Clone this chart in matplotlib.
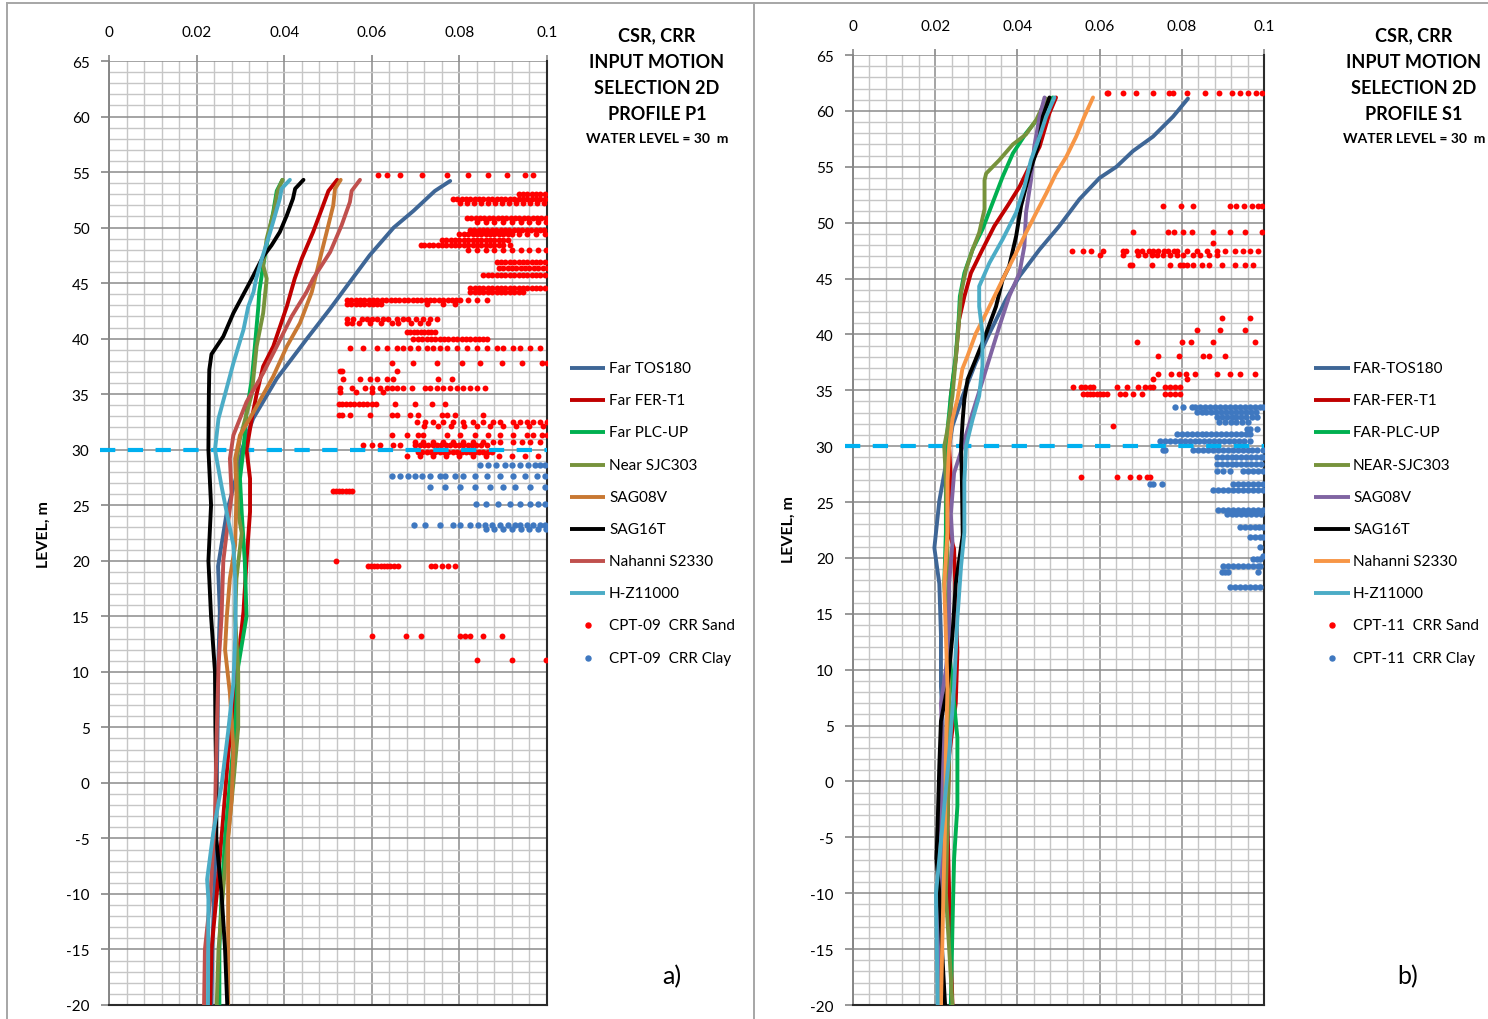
import matplotlib
matplotlib.use("Agg")
import matplotlib.pyplot as plt
from matplotlib.lines import Line2D
from matplotlib.ticker import MultipleLocator, FuncFormatter

plt.rcParams['font.family'] = ['Lato', 'DejaVu Sans']
plt.rcParams['lines.scale_dashes'] = False
plt.rcParams['axes.unicode_minus'] = False

# ---------------------------------------------------------------- data
WATER_LEVEL = 30.0

# Profile P1 : CSR curves (level m, CSR)
p1_tos180_y = [54.2, 53.3, 51.5, 50.0, 47.5, 45.0, 42.7, 40.0, 36.4, 32.8, 30.3, 27.5, 24.4, 19.5, 15.4, 10.0, 5.0, 0.0, -5.0, -10.0, -15.0, -20.0]
p1_tos180_x = [0.0779, 0.0744, 0.0695, 0.0650, 0.0595, 0.0548, 0.0505, 0.0452, 0.0383, 0.0329, 0.0306, 0.0290, 0.0269, 0.0249, 0.0253, 0.0249, 0.0248, 0.0246, 0.0244, 0.0240, 0.0236, 0.0234]
p1_fert1_y = [54.3, 53.3, 51.7, 49.6, 47.2, 45.4, 42.9, 39.3, 37.5, 35.0, 32.8, 30.0, 27.4, 24.4, 20.0, 15.4, 10.0, 2.5, -3.0, -10.0, -15.0, -20.0]
p1_fert1_x = [0.0521, 0.0501, 0.0486, 0.0466, 0.0440, 0.0424, 0.0406, 0.0375, 0.0352, 0.0337, 0.0326, 0.0314, 0.0322, 0.0322, 0.0314, 0.0307, 0.0292, 0.0272, 0.0261, 0.0246, 0.0234, 0.0231]
p1_plcup_y = [54.3, 53.3, 51.4, 49.3, 46.6, 44.2, 42.9, 39.3, 36.3, 33.4, 30.0, 27.4, 24.3, 20.0, 15.0, 10.5, 5.0, 0.0, -5.0, -10.0, -15.0, -20.0]
p1_plcup_x = [0.0396, 0.0383, 0.0375, 0.0364, 0.0352, 0.0343, 0.0341, 0.0333, 0.0326, 0.0314, 0.0307, 0.0299, 0.0303, 0.0310, 0.0314, 0.0295, 0.0288, 0.0276, 0.0265, 0.0257, 0.0252, 0.0252]
p1_sjc303_y = [54.3, 53.3, 51.4, 49.0, 46.6, 45.4, 42.3, 39.3, 35.0, 31.0, 28.9, 24.3, 22.5, 18.4, 15.0, 10.0, 5.0, 0.0, -7.5, -15.0, -20.0]
p1_sjc303_x = [0.0396, 0.0385, 0.0376, 0.0360, 0.0352, 0.0360, 0.0352, 0.0337, 0.0326, 0.0299, 0.0291, 0.0295, 0.0303, 0.0291, 0.0288, 0.0295, 0.0295, 0.0284, 0.0265, 0.0250, 0.0246]
p1_sag08v_y = [54.3, 53.5, 52.0, 49.6, 46.6, 44.2, 41.4, 39.3, 36.6, 33.4, 31.3, 29.2, 25.9, 21.4, 18.4, 15.0, 12.0, 8.1, 3.0, -1.5, -5.0, -20.0]
p1_sag08v_x = [0.0529, 0.0516, 0.0512, 0.0497, 0.0478, 0.0463, 0.0436, 0.0406, 0.0375, 0.0330, 0.0299, 0.0288, 0.0291, 0.0288, 0.0276, 0.0269, 0.0265, 0.0276, 0.0284, 0.0280, 0.0272, 0.0272]
p1_sag16t_y = [54.3, 53.5, 52.6, 51.1, 49.6, 48.4, 47.4, 45.4, 42.3, 40.2, 38.6, 37.2, 35.0, 30.0, 25.0, 20.0, 15.0, 10.0, 5.0, 0.0, -5.0, -10.0, -15.0, -20.0]
p1_sag16t_x = [0.0444, 0.0425, 0.0420, 0.0406, 0.0390, 0.0371, 0.0352, 0.0326, 0.0284, 0.0261, 0.0234, 0.0229, 0.0228, 0.0227, 0.0233, 0.0227, 0.0233, 0.0242, 0.0243, 0.0245, 0.0245, 0.0257, 0.0265, 0.0270]
p1_s2330_y = [54.3, 53.3, 52.3, 50.2, 47.8, 45.4, 44.2, 42.0, 39.3, 36.9, 34.3, 31.3, 29.2, 25.9, 22.6, 20.0, 15.0, 10.5, 4.6, -3.0, -10.5, -15.0, -20.0]
p1_s2330_x = [0.0573, 0.0554, 0.0550, 0.0531, 0.0505, 0.0466, 0.0451, 0.0417, 0.0383, 0.0352, 0.0314, 0.0284, 0.0276, 0.0280, 0.0269, 0.0261, 0.0257, 0.0250, 0.0246, 0.0242, 0.0231, 0.0219, 0.0217]
p1_hz11000_y = [54.3, 53.5, 52.6, 49.6, 47.2, 45.4, 44.2, 42.9, 40.8, 37.8, 35.0, 32.8, 30.0, 26.7, 23.7, 21.4, 18.4, 15.0, 13.0, 9.0, 4.6, -0.2, -4.5, -8.7, -10.5, -20.0]
p1_hz11000_x = [0.0413, 0.0394, 0.0390, 0.0368, 0.0349, 0.0336, 0.0330, 0.0318, 0.0307, 0.0284, 0.0265, 0.0250, 0.0242, 0.0257, 0.0272, 0.0284, 0.0288, 0.0289, 0.0288, 0.0284, 0.0272, 0.0257, 0.0238, 0.0224, 0.0227, 0.0226]

# Profile S1 : CSR curves (level m, CSR)
s1_tos180_y = [61.1, 59.5, 57.7, 56.4, 55.0, 54.0, 52.1, 49.7, 47.6, 45.2, 43.1, 40.1, 37.5, 34.5, 31.8, 30.0, 25.1, 20.9, 17.7, 13.1, 8.5, 5.4, 0.0, -5.0, -10.0, -15.0, -20.0]
s1_tos180_x = [0.0815, 0.0779, 0.0730, 0.0681, 0.0641, 0.0600, 0.0551, 0.0502, 0.0454, 0.0405, 0.0372, 0.0332, 0.0299, 0.0267, 0.0242, 0.0234, 0.0210, 0.0198, 0.0210, 0.0214, 0.0214, 0.0218, 0.0220, 0.0218, 0.0215, 0.0213, 0.0212]
s1_fert1_y = [61.2, 59.8, 58.3, 56.8, 55.0, 53.2, 51.5, 49.7, 47.6, 45.5, 43.4, 41.3, 37.8, 34.5, 30.0, 26.9, 22.3, 20.8, 16.2, 11.6, 7.0, 2.4, -3.8, -10.0, -20.0]
s1_fert1_x = [0.0494, 0.0478, 0.0466, 0.0454, 0.0429, 0.0405, 0.0376, 0.0344, 0.0315, 0.0287, 0.0271, 0.0258, 0.0250, 0.0238, 0.0234, 0.0238, 0.0234, 0.0246, 0.0250, 0.0254, 0.0250, 0.0234, 0.0230, 0.0234, 0.0242]
s1_plcup_y = [61.2, 59.5, 58.0, 56.2, 54.1, 51.8, 49.4, 47.6, 45.5, 43.4, 41.3, 38.1, 34.5, 30.0, 26.9, 22.3, 17.7, 11.6, 7.0, 3.9, -2.2, -6.9, -13.0, -20.0]
s1_plcup_x = [0.0486, 0.0454, 0.0421, 0.0389, 0.0364, 0.0340, 0.0315, 0.0291, 0.0271, 0.0260, 0.0257, 0.0250, 0.0238, 0.0226, 0.0226, 0.0226, 0.0222, 0.0234, 0.0246, 0.0254, 0.0254, 0.0246, 0.0242, 0.0238]
s1_sjc303_y = [61.1, 59.2, 57.9, 57.0, 55.6, 54.4, 53.8, 51.2, 49.1, 47.6, 45.8, 43.7, 41.3, 37.8, 34.5, 31.5, 30.0, 26.9, 20.8, 14.6, 8.5, 2.4, -3.8, -10.0, -20.0]
s1_sjc303_x = [0.0470, 0.0446, 0.0421, 0.0389, 0.0356, 0.0324, 0.0320, 0.0320, 0.0307, 0.0291, 0.0275, 0.0263, 0.0258, 0.0250, 0.0242, 0.0230, 0.0222, 0.0226, 0.0230, 0.0234, 0.0234, 0.0234, 0.0230, 0.0226, 0.0242]
s1_sag08v_y = [61.2, 59.5, 56.8, 53.8, 50.9, 47.9, 45.5, 43.4, 40.7, 36.9, 33.0, 30.0, 27.6, 23.9, 21.4, 17.7, 13.1, 10.0, 7.0, 2.4, -3.8, -10.0, -20.0]
s1_sag08v_x = [0.0466, 0.0454, 0.0441, 0.0433, 0.0421, 0.0417, 0.0405, 0.0380, 0.0356, 0.0324, 0.0291, 0.0267, 0.0246, 0.0238, 0.0242, 0.0234, 0.0234, 0.0226, 0.0214, 0.0218, 0.0214, 0.0210, 0.0210]
s1_sag16t_y = [61.2, 59.5, 56.8, 54.4, 51.5, 48.8, 46.1, 44.9, 42.5, 40.1, 37.8, 36.0, 34.2, 32.4, 30.0, 26.9, 22.0, 17.7, 13.1, 8.5, 5.4, 1.4, -3.8, -6.9, -9.9, -16.0, -20.0]
s1_sag16t_x = [0.0478, 0.0462, 0.0450, 0.0429, 0.0409, 0.0397, 0.0380, 0.0364, 0.0348, 0.0324, 0.0299, 0.0279, 0.0271, 0.0267, 0.0263, 0.0265, 0.0267, 0.0250, 0.0242, 0.0230, 0.0214, 0.0210, 0.0206, 0.0203, 0.0210, 0.0218, 0.0224]
s1_s2330_y = [61.2, 59.5, 57.7, 55.9, 54.4, 52.6, 50.9, 49.1, 47.3, 45.5, 43.7, 41.9, 40.1, 38.1, 36.9, 34.2, 32.4, 30.0, 26.9, 22.3, 17.7, 13.1, 8.5, 2.4, -3.8, -10.0, -20.0]
s1_s2330_x = [0.0584, 0.0563, 0.0543, 0.0519, 0.0494, 0.0470, 0.0446, 0.0421, 0.0397, 0.0372, 0.0348, 0.0324, 0.0299, 0.0279, 0.0266, 0.0254, 0.0242, 0.0234, 0.0230, 0.0230, 0.0222, 0.0226, 0.0230, 0.0226, 0.0224, 0.0220, 0.0214]
s1_hz11000_y = [61.2, 59.5, 57.7, 55.6, 53.2, 50.9, 48.5, 46.4, 44.3, 42.5, 40.1, 37.2, 34.5, 32.4, 30.0, 26.9, 22.3, 19.3, 14.6, 8.5, 2.4, -3.8, -10.0, -20.0]
s1_hz11000_x = [0.0490, 0.0470, 0.0454, 0.0433, 0.0417, 0.0397, 0.0364, 0.0332, 0.0307, 0.0307, 0.0315, 0.0315, 0.0307, 0.0291, 0.0275, 0.0271, 0.0271, 0.0263, 0.0254, 0.0246, 0.0234, 0.0218, 0.0202, 0.0206]

# CPT CRR points, grouped by level; CRR values listed in thousandths
cpt09_sand = [
    (54.7, [61.5, 63.4, 66.4, 71.4, 77.1, 82.0, 86.6, 90.8, 95.0, 96.9]),
    (53.0, [93.5, 94.5, 95.5, 96.5, 97.5, 98.5, 99.5]),
    (52.6, [78.6, 79.5, 80.5, 81.5, 82.5, 83.5, 84.5, 85.5, 86.5, 87.5, 88.5, 89.5, 90.5, 91.5, 92.5, 93.5, 94.5, 95.5, 96.5, 97.5, 98.5, 99.5]),
    (52.2, [80.2, 81.8, 83.4, 85.0, 86.6, 88.2, 89.8, 91.4, 93.0, 94.6, 96.2, 97.8, 99.4]),
    (50.9, [81.7, 82.7, 83.7, 84.7, 85.7, 86.7, 87.7, 88.7, 89.7, 90.7, 91.7, 92.7, 93.7, 94.7, 95.7, 96.7, 97.7, 98.7, 99.7]),
    (50.5, [84.0, 86.0, 88.0, 90.0, 92.0, 94.0, 96.0, 98.0, 99.8]),
    (49.8, [82.4, 83.4, 84.4, 85.4, 86.4, 87.4, 88.4, 89.4, 90.4, 91.4, 92.4, 93.4, 94.4, 95.4, 96.4, 97.4, 98.4, 99.4]),
    (49.4, [80.0, 81.0, 82.0, 83.0, 84.0, 85.0, 86.0, 87.0, 88.0, 89.0, 90.0, 91.0, 92.0, 93.5, 95.5, 97.5, 99.5]),
    (48.9, [76.0, 77.0, 78.0, 79.0, 80.0, 81.0, 82.0, 83.0, 84.0, 85.0, 86.0, 87.0, 88.0, 89.0, 90.0, 91.0]),
    (48.4, [71.2, 72.0, 73.0, 74.0, 75.0, 76.0, 77.0, 78.0, 79.0, 80.0, 81.0, 82.0, 83.0, 84.0, 85.0, 86.0, 87.0, 88.0, 89.0, 90.0, 91.5]),
    (48.0, [82.0, 84.0, 86.0, 88.0, 90.0, 92.0, 94.0, 96.0, 98.0, 99.8]),
    (46.9, [88.5, 89.5, 90.5, 91.5, 92.5, 93.5, 94.5, 95.5, 96.5, 97.5, 98.5, 99.5]),
    (46.4, [89.0, 90.0, 91.0, 92.0, 93.0, 94.0, 95.0, 96.0, 97.0, 98.0, 99.0, 100.0]),
    (45.7, [85.5, 86.5, 87.5, 88.5, 89.5, 90.5, 91.5, 92.5, 93.5, 94.5, 95.5, 96.5, 97.5, 98.5, 99.5]),
    (44.6, [82.5, 83.5, 84.5, 85.5, 86.5, 87.5, 88.5, 89.5, 90.5, 91.5, 92.5, 93.5, 94.5, 95.5, 96.5, 97.5, 98.5, 99.5]),
    (44.2, [82.5, 83.5, 84.5, 85.5, 86.5, 87.5, 88.5, 89.5, 90.5, 91.5, 92.5, 93.5, 94.5]),
    (43.5, [54.3, 55.3, 56.3, 57.3, 58.3, 59.3, 60.3, 61.3, 62.3, 63.3, 64.3, 65.3, 66.3, 67.3, 68.3, 69.3, 70.3, 71.3, 72.3, 73.3, 74.3, 75.3, 76.3, 77.3, 78.3, 79.3, 80.1, 82.0, 84.0, 86.2]),
    (43.1, [54.3, 55.3, 56.3, 57.3, 58.3, 59.3, 60.3, 61.2, 62.0, 72.5, 76.3, 79.0]),
    (41.8, [54.3, 55.8, 57.7, 58.8, 60.0, 61.1, 62.6, 63.7, 65.7, 67.2, 68.3, 70.2, 71.7, 73.3, 74.8]),
    (41.4, [54.3, 55.4, 57.0, 59.5, 62.0, 64.6, 66.0, 69.0, 71.0, 72.9]),
    (40.6, [68.0, 68.8, 69.6, 70.4, 71.2, 72.0, 72.8, 73.6, 74.5]),
    (40.0, [69.5, 70.5, 71.5, 72.5, 73.5, 74.5, 75.5, 76.5, 77.5, 78.5, 79.5, 80.5, 81.5, 82.5, 83.5, 84.5, 85.5, 86.2]),
    (39.2, [55.0, 58.1, 61.1, 63.4, 65.7, 67.2, 68.7, 70.6, 72.5, 74.0, 75.6, 77.1, 79.4, 81.7, 84.0, 86.2, 88.5, 90.0, 92.3, 93.8, 96.1, 98.4]),
    (37.8, [64.5, 69.5, 74.8, 80.5, 84.7, 89.7, 94.2, 98.8, 100.0]),
    (37.1, [52.7, 53.1, 65.7]),
    (36.4, [53.5, 57.3, 59.6, 61.1, 63.4, 64.9, 75.2, 78.2]),
    (35.6, [52.7, 55.4, 58.4, 60.0, 61.9, 63.4, 64.5, 65.7, 67.2, 69.1, 72.1, 73.3, 74.8, 76.3, 77.9, 79.4, 80.9, 82.4, 84.0, 85.8]),
    (35.2, [52.7, 56.5, 60.0, 62.6]),
    (34.1, [52.4, 53.3, 54.2, 55.1, 56.0, 57.0, 58.0, 59.0, 60.0, 61.0, 65.3, 69.9, 73.7, 76.7]),
    (33.1, [52.4, 53.1, 55.0, 59.6, 64.5, 65.7, 68.7, 70.6, 76.0, 77.1, 79.0, 85.5]),
    (32.5, [70.3, 72.1, 74.0, 76.3, 78.6, 80.9, 83.2, 85.5, 87.7, 89.3, 92.3, 93.8, 95.4, 96.9, 98.4, 99.9]),
    (32.1, [72.0, 75.0, 78.0, 81.0, 84.0, 87.0, 90.0, 93.0, 96.0, 99.0]),
    (31.3, [64.5, 68.0, 70.6, 71.8, 77.1, 80.1, 83.6, 86.6, 89.3, 92.3, 95.4, 96.9, 98.8, 99.9]),
    (30.7, [69.9, 71.8, 74.0, 76.3, 78.6, 80.9, 83.2, 85.5, 87.7, 89.3, 92.3, 94.2, 96.1, 98.4]),
    (30.4, [58.1, 60.0, 61.9, 64.9, 66.4, 69.9, 70.9, 71.9, 72.9, 73.9, 74.9, 75.9, 76.9, 77.9, 78.9, 79.9, 80.9, 81.9, 82.9, 83.9, 84.9, 86.2]),
    (29.8, [70.5, 71.5, 72.5, 73.5, 74.5, 75.5, 76.5, 77.5, 78.5, 79.5, 80.5, 81.5, 82.5, 83.5, 84.5, 85.5, 86.5, 87.5]),
    (29.4, [68.0, 71.0, 74.0, 77.0, 80.0, 83.0, 86.0, 89.0, 92.0, 95.0, 98.0]),
    (26.3, [51.1, 51.8, 52.5, 53.3, 54.0, 54.8, 55.5]),
    (20.0, [51.8]),
    (19.5, [59.1, 59.8, 60.5, 61.2, 62.0, 62.8, 63.5, 64.2, 65.0, 65.9, 73.5, 74.5, 76.0, 77.5, 79.0]),
    (13.2, [60.0, 67.8, 71.2, 80.1, 81.2, 82.4, 85.4, 89.7]),
    (11.1, [84.0, 92.0, 99.8]),
]
cpt09_clay = [
    (28.6, [84.7, 86.5, 88.4, 90.4, 92.0, 93.8, 95.7, 97.3, 98.4, 99.5]),
    (27.6, [64.6, 66.4, 68.3, 69.9, 71.5, 73.3, 75.6, 76.7, 79.0, 80.8, 83.6, 86.3, 89.3, 92.2, 95.0, 97.7, 99.5]),
    (26.6, [73.3, 76.7, 80.1, 83.6, 87.0, 90.0, 92.7, 96.1, 99.5]),
    (25.1, [83.8, 86.1, 88.8, 91.6, 93.8, 96.1, 97.9, 99.5]),
    (23.2, [69.6, 72.1, 75.6, 78.5, 80.1, 82.4, 84.2, 85.8, 87.4, 89.3, 91.1, 92.7, 93.8, 95.4, 96.8, 98.4, 99.5]),
    (22.9, [86.0, 88.0, 90.0, 92.0, 94.0, 96.0, 98.0, 99.8]),
]
cpt11_sand = [
    (61.6, [61.7, 62.1, 65.8, 68.9, 72.9, 77.0, 77.9, 81.3, 85.6, 89.1, 92.2, 94.2, 96.1, 98.1, 99.5]),
    (51.5, [75.4, 79.7, 82.8, 91.7, 93.2, 95.1, 97.1, 98.5, 99.5]),
    (49.2, [68.1, 76.7, 78.1, 80.2, 82.4, 87.7, 91.7, 95.4, 99.5]),
    (48.2, [87.7]),
    (47.5, [53.2, 56.0, 57.8, 60.9, 65.8, 66.4, 69.0, 70.3, 71.9, 73.1, 74.3, 75.7, 76.7, 78.0, 78.8, 81.2, 83.6, 86.1, 88.5, 90.5, 93.0, 94.9, 96.6, 98.5]),
    (47.1, [60.1, 65.8, 69.4, 71.0, 72.7, 73.9, 75.5, 77.1, 78.8, 80.4, 82.8, 84.4, 86.5, 88.5]),
    (46.2, [67.4, 67.8, 72.7, 77.1, 79.6, 80.4, 81.2, 82.8, 84.8, 86.5, 89.8, 93.0, 95.4, 97.3]),
    (41.5, [89.8, 96.6]),
    (40.4, [83.8, 89.3, 95.4]),
    (39.3, [69.2, 80.0, 82.2, 87.6, 97.8]),
    (38.1, [74.3, 79.4, 85.2, 86.5, 90.5]),
    (36.5, [74.3, 77.3, 79.2, 81.0, 83.2, 88.6, 91.7, 94.2, 97.8]),
    (36.0, [73.1, 81.2]),
    (35.3, [53.6, 55.4, 56.4, 57.7, 58.5, 64.2, 66.6, 69.4, 71.0, 72.3, 73.1, 75.9, 77.1, 78.3, 79.6]),
    (34.7, [56.0, 56.9, 57.7, 58.5, 59.3, 60.1, 60.9, 61.7, 65.0, 66.2, 68.2, 70.2, 75.9, 77.1, 78.3, 79.6]),
    (31.8, [63.3]),
    (27.2, [55.4, 64.2, 67.4, 69.7, 71.5, 72.3]),
]
cpt11_clay = [
    (33.5, [78.3, 80.4, 82.4, 83.2, 84.4, 85.6, 86.9, 88.1, 89.3, 90.5, 91.7, 92.9, 94.2, 95.4, 96.6, 97.8, 99.0, 99.8]),
    (33.1, [83.6, 84.8, 86.0, 87.2, 88.4, 89.6, 90.8, 92.0, 93.2, 94.4, 95.6, 96.8, 98.0]),
    (32.6, [88.5, 89.7, 90.9, 92.1, 93.3, 94.5, 95.7, 97.0, 98.2]),
    (32.2, [89.1, 90.5, 91.9, 93.3, 94.7, 96.1]),
    (31.5, [95.8, 96.6, 98.2]),
    (31.1, [78.8, 80.0, 81.2, 82.4, 83.6, 84.8, 86.0, 87.2, 88.4, 89.6, 90.8, 92.0, 93.2, 94.4, 95.6, 96.6]),
    (30.5, [74.7, 75.9, 77.1, 78.3, 79.5, 80.7, 81.9, 83.1, 84.3, 85.5, 86.7, 87.9, 89.1, 90.3, 91.5, 92.7, 93.9, 95.1, 96.6]),
    (29.7, [75.5, 75.9, 82.8, 84.0, 85.2, 86.4, 87.6, 88.8, 90.0, 91.2, 92.4, 93.6, 94.8, 96.0, 97.2, 98.4, 99.8]),
    (29.0, [88.5, 89.7, 90.9, 92.1, 93.3, 94.5, 95.7, 96.9, 98.1, 99.3, 99.8]),
    (28.4, [88.5, 89.7, 90.9, 92.1, 93.3, 94.5, 95.7, 96.9, 98.1, 99.3]),
    (27.8, [88.5, 90.1, 91.7, 95.0, 96.2, 97.4, 98.6, 99.8]),
    (26.6, [72.3, 73.0, 75.2, 92.5, 93.7, 94.9, 96.1, 97.3, 98.5, 99.8]),
    (26.1, [87.7, 88.9, 90.1, 91.3, 92.5, 93.7, 94.9, 96.1, 97.3, 98.5, 99.8]),
    (24.3, [88.9, 90.1, 91.3, 92.5, 93.7, 94.9, 96.1, 97.3, 98.5, 99.8]),
    (23.9, [90.9, 92.1, 93.3, 94.5, 95.7, 96.9, 98.1, 99.3]),
    (22.8, [94.1, 95.3, 96.5, 97.7, 98.9, 99.8]),
    (21.9, [96.6, 97.8, 99.0, 99.8]),
    (21.0, [99.0]),
    (20.2, [99.8]),
    (19.9, [97.4, 98.2, 99.0]),
    (19.3, [90.1, 91.3, 92.5, 93.7, 94.9, 96.1, 97.3, 98.5, 99.0]),
    (18.7, [89.7, 90.5, 91.3, 98.6]),
    (17.4, [91.7, 92.9, 94.1, 95.3, 96.5, 97.7, 99.0]),
]

p1_labels = ["Far TOS180", "Far FER-T1", "Far PLC-UP", "Near SJC303", "SAG08V",
             "SAG16T", "Nahanni S2330", "H-Z11000"]
s1_labels = ["FAR-TOS180", "FAR-FER-T1", "FAR-PLC-UP", "NEAR-SJC303", "SAG08V",
             "SAG16T", "Nahanni S2330", "H-Z11000"]
p1_colors = ["#3E6696", "#C00000", "#00B050", "#77933C", "#C87832",
             "#000000", "#C0504D", "#4BACC6"]
s1_colors = ["#3E6696", "#C00000", "#00B050", "#77933C", "#8064A2",
             "#000000", "#F79646", "#4BACC6"]

p1_curves = [(p1_tos180_x, p1_tos180_y), (p1_fert1_x, p1_fert1_y), (p1_plcup_x, p1_plcup_y),
             (p1_sjc303_x, p1_sjc303_y), (p1_sag08v_x, p1_sag08v_y), (p1_sag16t_x, p1_sag16t_y),
             (p1_s2330_x, p1_s2330_y), (p1_hz11000_x, p1_hz11000_y)]
s1_curves = [(s1_tos180_x, s1_tos180_y), (s1_fert1_x, s1_fert1_y), (s1_plcup_x, s1_plcup_y),
             (s1_sjc303_x, s1_sjc303_y), (s1_sag08v_x, s1_sag08v_y), (s1_sag16t_x, s1_sag16t_y),
             (s1_s2330_x, s1_s2330_y), (s1_hz11000_x, s1_hz11000_y)]

SAND_COLOR = "#FF0000"
CLAY_COLOR = "#3F78C0"
WATER_COLOR = "#00B0F0"

# ---------------------------------------------------------------- figure
W, H = 1488, 1020
fig = plt.figure(figsize=(W / 100, H / 100), dpi=100)


def fx(px):
    return px / W


def fy(py):
    return 1 - py / H


def flatten(rows):
    xs, ys = [], []
    for level, values in rows:
        for v in values:
            xs.append(v / 1000.0)
            ys.append(level)
    return xs, ys


def draw_panel(left, right, top, curves, colors, sand, clay):
    bottom = 1006
    ax = fig.add_axes([fx(left), fy(bottom), fx(right - left), (bottom - top) / H])
    ax.set_xlim(0, 0.1)
    ax.set_ylim(-20, 65)
    ax.xaxis.set_major_locator(MultipleLocator(0.02))
    ax.xaxis.set_minor_locator(MultipleLocator(0.004))
    ax.yaxis.set_major_locator(MultipleLocator(5))
    ax.yaxis.set_minor_locator(MultipleLocator(1))
    ax.xaxis.set_major_formatter(FuncFormatter(lambda v, _: f"{v:g}"))
    ax.xaxis.tick_top()
    ax.grid(which="major", color="#8c8c8c", lw=1.1)
    ax.grid(which="minor", color="#c6c6c6", lw=1.0)
    ax.set_axisbelow(True)
    ax.tick_params(axis="x", which="major", direction="out", length=4, width=1.2,
                   color="#868686", pad=12, labelsize=11, top=True, bottom=False)
    ax.tick_params(axis="y", which="major", direction="out", length=6, width=1.2,
                   color="#868686", pad=8, labelsize=11)
    ax.tick_params(which="minor", length=0)
    ax.spines["top"].set_visible(False)
    ax.spines["left"].set_color("#868686")
    ax.spines["left"].set_linewidth(1.4)
    for side in ("bottom", "right"):
        ax.spines[side].set_color("#2b2b2b")
        ax.spines[side].set_linewidth(1.5)

    sx, sy = flatten(sand)
    ax.scatter(sx, sy, s=18, color=SAND_COLOR, lw=0, zorder=3)
    cx, cy = flatten(clay)
    ax.scatter(cx, cy, s=21, color=CLAY_COLOR, lw=0, zorder=3)

    ax.plot([-0.002, 0.1], [WATER_LEVEL, WATER_LEVEL], color=WATER_COLOR, lw=3,
            linestyle=(0, (11, 9)), clip_on=False, zorder=3.5)

    for (xs, ys), c in zip(curves, colors):
        ax.plot(xs, ys, color=c, lw=2.8, solid_capstyle="round",
                solid_joinstyle="round", zorder=4)
    return ax


def draw_legend(x0, x1, xt, labels, colors, cpt):
    rows = [369, 401, 433, 466, 498, 530, 562, 594, 626, 659]
    for py, lab, c in zip(rows, labels, colors):
        fig.add_artist(Line2D([fx(x0), fx(x1)], [fy(py), fy(py)], color=c, lw=2.8,
                              solid_capstyle="butt"))
        fig.text(fx(xt), fy(py), lab, ha="left", va="center", fontsize=11)
    xm = (x0 + x1) / 2
    for py, lab, c in zip(rows[8:], [f"{cpt}  CRR Sand", f"{cpt}  CRR Clay"],
                          [SAND_COLOR, CLAY_COLOR]):
        fig.add_artist(Line2D([fx(xm)], [fy(py)], marker="o", markersize=3.6,
                              color=c, lw=0))
        fig.text(fx(xt), fy(py), lab, ha="left", va="center", fontsize=11)


def draw_title(cx, profile):
    lines = ["CSR, CRR", "INPUT MOTION", "SELECTION 2D", profile]
    for py, t in zip([36, 62, 88, 115], lines):
        fig.text(fx(cx), fy(py), t, ha="center", va="center", fontsize=13,
                 fontweight="bold")
    fig.text(fx(cx), fy(139), "WATER LEVEL = 30  m", ha="center", va="center",
             fontsize=10, fontweight="bold")


# panel frames
frame = dict(color="#a6a6a6", lw=1.4)
fig.add_artist(Line2D([fx(7), fx(W)], [fy(4), fy(4)], **frame))
fig.add_artist(Line2D([fx(7), fx(7)], [fy(4), fy(H)], **frame))
fig.add_artist(Line2D([fx(754), fx(754)], [fy(4), fy(H)], **frame))

# a) profile P1
draw_panel(109, 547, 62, p1_curves, p1_colors, cpt09_sand, cpt09_clay)
draw_legend(570, 605, 609, p1_labels, p1_colors, "CPT-09")
draw_title(657, "PROFILE P1")
fig.text(fx(44), fy(535), "LEVEL, m", rotation=90, ha="center", va="center",
         fontsize=11.5, fontweight="bold")
fig.text(fx(672), fy(977), "a)", ha="center", va="center", fontsize=18)

# b) profile S1
draw_panel(853, 1264, 56, s1_curves, s1_colors, cpt11_sand, cpt11_clay)
draw_legend(1314, 1350, 1353, s1_labels, s1_colors, "CPT-11")
draw_title(1414, "PROFILE S1")
fig.text(fx(789), fy(530), "LEVEL, m", rotation=90, ha="center", va="center",
         fontsize=11.5, fontweight="bold")
fig.text(fx(1408), fy(977), "b)", ha="center", va="center", fontsize=18)

fig.savefig("out.png", dpi=100)
